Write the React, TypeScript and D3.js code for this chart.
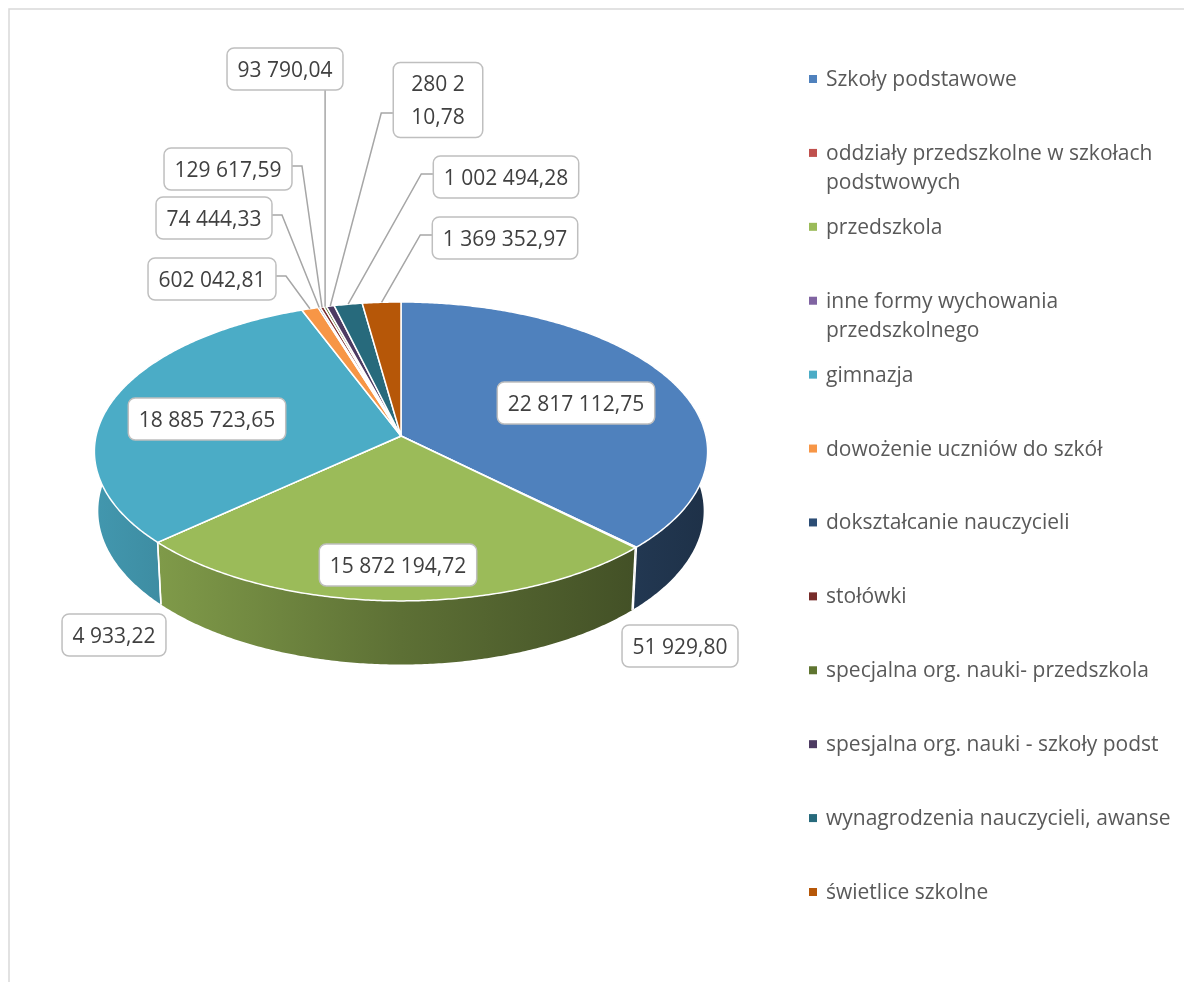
'use client';

import React, { useEffect, useRef } from 'react';
import * as d3 from 'd3';

const categories: string[] = [
  'Szkoły podstawowe',
  'oddziały przedszkolne w szkołach podstwowych',
  'przedszkola',
  'inne formy wychowania przedszkolnego',
  'gimnazja',
  'dowożenie uczniów do szkół',
  'dokształcanie nauczycieli',
  'stołówki',
  'specjalna org. nauki- przedszkola',
  'spesjalna org. nauki - szkoły podst',
  'wynagrodzenia nauczycieli, awanse',
  'świetlice szkolne',
];

const values: number[] = [
  22817112.75, 51929.8, 15872194.72, 4933.22, 18885723.65, 602042.81,
  74444.33, 129617.59, 93790.04, 280210.78, 1002494.28, 1369352.97,
];

const colors: string[] = [
  '#4F81BD', '#C0504D', '#9BBB59', '#8064A2', '#4BACC6', '#F79646',
  '#2C4D75', '#772C2A', '#5F7530', '#4D3B62', '#276A7C', '#B65708',
];

// data label placement (box centre, page px), as laid out in the original
const labelX: number[] = [576, 680, 398, 114, 207, 212, 214, 228, 285, 438, 506, 505];
const labelY: number[] = [403, 646, 565, 635, 419, 279, 218, 169, 69, 100, 177, 238];
const labelLeader: boolean[] = [false, false, false, false, false, true, true, true, true, true, true, true];
const labelSplit: number[] = [0, 0, 0, 0, 0, 0, 0, 0, 0, 5, 0, 0];

// 3D view of the pie
const PHI = (29 * Math.PI) / 180;
const FOCAL = 2580;
const DIST = 8.46;
const THICK = 0.225;
const CX = 401;
const CY = 436;

const FONT = "'Open Sans', 'Liberation Sans', sans-serif";

function project(theta: number, r: number, y: number): [number, number] {
  const X = r * Math.sin(theta);
  const Z = -r * Math.cos(theta);
  const v = y * Math.cos(PHI) - Z * Math.sin(PHI);
  const depth = DIST - Z * Math.cos(PHI) - y * Math.sin(PHI);
  return [CX + (FOCAL * X) / depth, CY - (FOCAL * v) / depth];
}

function arcPoints(a0: number, a1: number, y: number): [number, number][] {
  const n = Math.max(1, Math.ceil((a1 - a0) / (Math.PI / 360)));
  const pts: [number, number][] = [];
  for (let k = 0; k <= n; k++) pts.push(project(a0 + ((a1 - a0) * k) / n, 1, y));
  return pts;
}

const fmt = d3.formatLocale({
  decimal: ',',
  thousands: ' ',
  grouping: [3],
  currency: ['', ''],
}).format(',.2f');

const shade = (c: string, f: number) => {
  const rgb = d3.rgb(c);
  return d3.rgb(rgb.r * f, rgb.g * f, rgb.b * f).toString();
};

const App: React.FC = () => {
  const chartRef = useRef<SVGSVGElement | null>(null);

  useEffect(() => {
    if (!chartRef.current) return;

    d3.select(chartRef.current).selectAll('*').remove();
    const root = d3.select(chartRef.current).append('g');
    const defs = root.append('defs');

    // chart border
    root
      .append('rect')
      .attr('x', 9)
      .attr('y', 9)
      .attr('width', 1400)
      .attr('height', 1400)
      .attr('fill', 'none')
      .attr('stroke', '#D9D9D9')
      .attr('stroke-width', 1.5);

    const pie = d3.pie<number>().sort(null).value((d) => d);
    const arcs = pie(values);

    // side wall: one path per slice, lit from the left
    const vis0 = Math.PI * 0.4;
    const vis1 = Math.PI * 1.6;
    const wall = root.append('g');
    arcs.forEach((a, i) => {
      const a0 = Math.max(a.startAngle, vis0);
      const a1 = Math.min(a.endAngle, vis1);
      if (a1 <= a0) return;
      const grad = defs
        .append('linearGradient')
        .attr('id', `wall${i}`)
        .attr('gradientUnits', 'userSpaceOnUse')
        .attr('x1', 96)
        .attr('x2', 706)
        .attr('y1', 0)
        .attr('y2', 0);
      grad.append('stop').attr('offset', 0).attr('stop-color', shade(colors[i], 0.88));
      grad.append('stop').attr('offset', 0.5).attr('stop-color', shade(colors[i], 0.6));
      grad.append('stop').attr('offset', 1).attr('stop-color', shade(colors[i], 0.38));
      const top = arcPoints(a0, a1, 0);
      const bot = arcPoints(a0, a1, -THICK).reverse();
      wall
        .append('path')
        .attr('d', d3.line()([...top, ...bot]) + 'Z')
        .attr('fill', `url(#wall${i})`);
    });

    // white seams between slices on the wall
    arcs.forEach((a) => {
      const ang = a.startAngle;
      if (ang <= Math.PI / 2 || ang >= (3 * Math.PI) / 2) return;
      const top = project(ang, 1, 0);
      const bot = project(ang, 1, -THICK);
      wall
        .append('line')
        .attr('x1', top[0])
        .attr('y1', top[1])
        .attr('x2', bot[0])
        .attr('y2', bot[1])
        .attr('stroke', '#fff')
        .attr('stroke-width', 1.5);
    });

    // top faces
    const line = d3.line();
    root
      .append('g')
      .selectAll('path')
      .data(arcs)
      .enter()
      .append('path')
      .attr('d', (a) => line([[CX, CY], ...arcPoints(a.startAngle, a.endAngle, 0)]) + 'Z')
      .attr('fill', (_, i) => colors[i])
      .attr('stroke', '#fff')
      .attr('stroke-width', 1.5)
      .attr('stroke-linejoin', 'round');

    // data labels
    const leaders = root.append('g');
    const labels = root.append('g');
    arcs.forEach((a, i) => {
      const txt = fmt(values[i]);
      const lines = labelSplit[i] ? [txt.slice(0, labelSplit[i]).trim(), txt.slice(labelSplit[i])] : [txt];
      const g = labels.append('g');
      const rect = g.append('rect');
      let maxW = 0;
      lines.forEach((ln, k) => {
        const t = g
          .append('text')
          .attr('x', labelX[i])
          .attr('y', labelY[i] + (k - (lines.length - 1) / 2) * 33)
          .attr('dy', '0.36em')
          .attr('text-anchor', 'middle')
          .style('font-family', FONT)
          .style('font-size', '21px')
          .style('fill', '#404040')
          .text(ln);
        maxW = Math.max(maxW, (t.node() as SVGTextElement).getComputedTextLength());
      });
      const w = lines.length > 1 ? maxW + 36 : maxW + 21;
      const h = lines.length > 1 ? 75 : 42;
      rect
        .attr('x', labelX[i] - w / 2)
        .attr('y', labelY[i] - h / 2)
        .attr('width', w)
        .attr('height', h)
        .attr('rx', 7)
        .attr('fill', '#fff')
        .attr('stroke', '#BFBFBF')
        .attr('stroke-width', 1.5);

      if (!labelLeader[i]) return;
      const mid = (a.startAngle + a.endAngle) / 2;
      const [ax, ay] = project(mid, 1, 0);
      const ly = lines.length > 1 ? labelY[i] + 13 : labelY[i] - 3;
      let d: string;
      if (ax > labelX[i] + w / 2) {
        d = `M${labelX[i] + w / 2},${ly}L${labelX[i] + w / 2 + 10},${ly}L${ax},${ay}`;
      } else if (ax < labelX[i] - w / 2) {
        d = `M${labelX[i] - w / 2},${ly}L${labelX[i] - w / 2 - 12},${ly}L${ax},${ay}`;
      } else {
        d = `M${ax},${labelY[i] + h / 2}L${ax},${ay}`;
      }
      leaders
        .append('path')
        .attr('d', d)
        .attr('fill', 'none')
        .attr('stroke', '#A6A6A6')
        .attr('stroke-width', 1.5);
    });

    // legend
    const legendY = d3.scaleLinear().domain([0, categories.length - 1]).range([86, 899]);
    const legend = root.append('g');
    categories.forEach((name, i) => {
      const y = legendY(i);
      legend
        .append('rect')
        .attr('x', 809)
        .attr('y', y - 11)
        .attr('width', 8)
        .attr('height', 8)
        .attr('fill', colors[i]);
      const t = legend
        .append('text')
        .style('font-family', FONT)
        .style('font-size', '21px')
        .style('fill', '#595959');
      const words = name.split(' ');
      let cur: string[] = [];
      let lineNo = 0;
      let tspan = t.append('tspan').attr('x', 826).attr('y', y);
      words.forEach((wd) => {
        cur.push(wd);
        tspan.text(cur.join(' '));
        if ((tspan.node() as SVGTSpanElement).getComputedTextLength() > 352 && cur.length > 1) {
          cur.pop();
          tspan.text(cur.join(' '));
          cur = [wd];
          lineNo += 1;
          tspan = t.append('tspan').attr('x', 826).attr('y', y + lineNo * 29).text(wd);
        }
      });
    });
  }, []);

  return (
    <svg
      ref={chartRef}
      width={1184}
      height={982}
      style={{ position: 'fixed', left: 0, top: 0, display: 'block' }}
    ></svg>
  );
};

export default App;
